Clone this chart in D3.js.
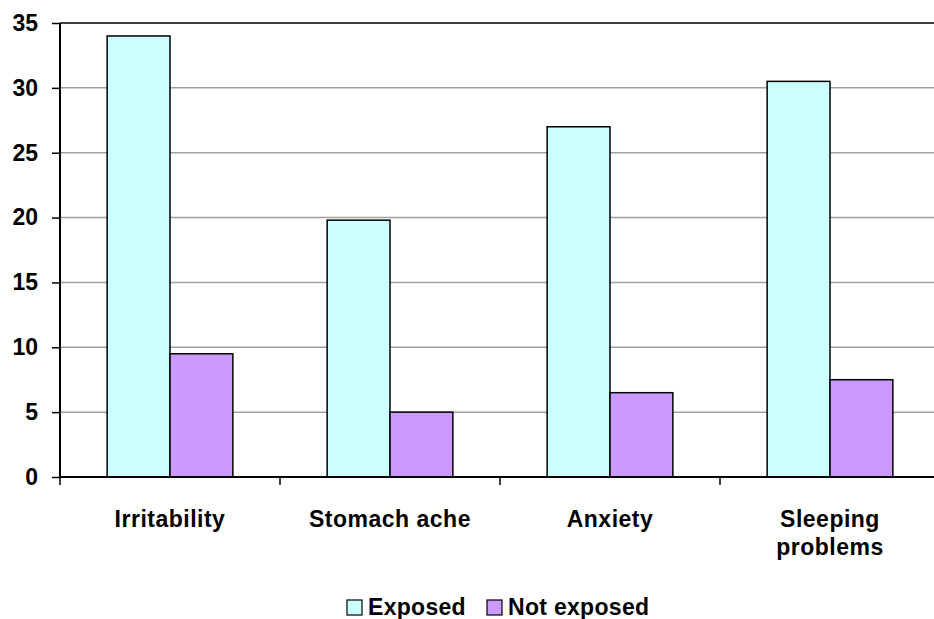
<!DOCTYPE html>
<html><head><meta charset="utf-8">
<script src="https://cdn.jsdelivr.net/npm/d3@7"></script>
<style>body{margin:0;background:#fff}svg{display:block}text{font-family:Arial,"Liberation Sans",sans-serif;font-weight:bold;fill:#000}</style>
</head><body><svg id="c" width="934" height="619"></svg>
<script>
const categories = ["Irritability", "Stomach ache", "Anxiety", "Sleeping problems"];
const seriesNames = ["Exposed", "Not exposed"];
const exposed = [34, 19.8, 27, 30.5];
const notExposed = [9.5, 5, 6.5, 7.5];
const yTicks = [0, 5, 10, 15, 20, 25, 30, 35];
const colors = ["#ccffff", "#cc99ff"];

const svg = d3.select("#c");
const L = 60, R = 940, T = 23, B = 477;
const x = d3.scaleBand().domain(categories).range([L, R]).paddingInner(0).paddingOuter(0);
const y = d3.scaleLinear().domain([0, 35]).range([B, T]);
const gap = 1.5;
const barW = x.bandwidth() / (2 + gap);
const xs = d3.scaleBand().domain(seriesNames).range([barW*gap/2, barW*gap/2 + 2*barW]);

// gridlines
svg.append("g").selectAll("line").data(yTicks.filter(d => d > 0 && d < 35)).join("line")
  .attr("x1", L).attr("x2", R).attr("y1", d => y(d)).attr("y2", d => y(d))
  .attr("stroke", "#a0a0a0").attr("stroke-width", 1.5);
// top border
svg.append("line").attr("x1", L).attr("x2", R).attr("y1", y(35)).attr("y2", y(35)).attr("stroke", "#000").attr("stroke-width", 1.5);

const data = categories.map((c, i) => ({c, vals: [exposed[i], notExposed[i]]}));
const g = svg.append("g");
data.forEach(d => {
  d.vals.forEach((v, j) => {
    g.append("rect")
      .attr("x", x(d.c) + xs(seriesNames[j]))
      .attr("y", y(v))
      .attr("width", barW)
      .attr("height", y(0) - y(v))
      .attr("fill", colors[j]).attr("stroke", "#000").attr("stroke-width", 1.5);
  });
});

// y axis
const ya = svg.append("g").attr("transform", `translate(${L},0)`)
  .call(d3.axisLeft(y).tickValues(yTicks).tickSize(8).tickPadding(14).tickFormat(d3.format("d")));
ya.select(".domain").attr("stroke", "#000").attr("stroke-width", 2).attr("d", `M0,${T}V${B}`);
ya.selectAll(".tick line").attr("stroke", "#000").attr("stroke-width", 1.5);
ya.selectAll("text").style("font-size", "23px").style("font-family", "Arial, 'Liberation Sans', sans-serif").style("font-weight", "bold").attr("fill", "#000");

// x axis
const xa = svg.append("g").attr("transform", `translate(0,${B})`);
xa.append("line").attr("x1", L).attr("x2", R).attr("stroke", "#000").attr("stroke-width", 2);
const boundaries = categories.map(c => x(c)).concat([R]);
xa.selectAll("line.tk").data(boundaries).join("line").attr("class", "tk")
  .attr("x1", d => d).attr("x2", d => d).attr("y1", 0).attr("y2", 8).attr("stroke", "#000").attr("stroke-width", 1.5);
const labelLines = {"Sleeping problems": ["Sleeping", "problems"]};
categories.forEach(c => {
  const lines = labelLines[c] || [c];
  const t = svg.append("text").attr("x", x(c) + x.bandwidth()/2).attr("y", 527)
    .attr("text-anchor", "middle").style("font-size", "23px").style("letter-spacing", "0.5px");
  lines.forEach((ln, i) => t.append("tspan").attr("x", x(c) + x.bandwidth()/2).attr("dy", i ? 28 : 0).text(ln));
});

// legend
const leg = svg.append("g");
const legItems = [{n: seriesNames[0], x: 347}, {n: seriesNames[1], x: 487}];
legItems.forEach((it, i) => {
  leg.append("rect").attr("x", it.x).attr("y", 600).attr("width", 15).attr("height", 15)
    .attr("fill", colors[i]).attr("stroke", "#000").attr("stroke-width", 1.2);
  leg.append("text").attr("x", it.x + 21).attr("y", 615).style("font-size", "23px").style("letter-spacing", "0.3px").text(it.n);
});
</script></body></html>
